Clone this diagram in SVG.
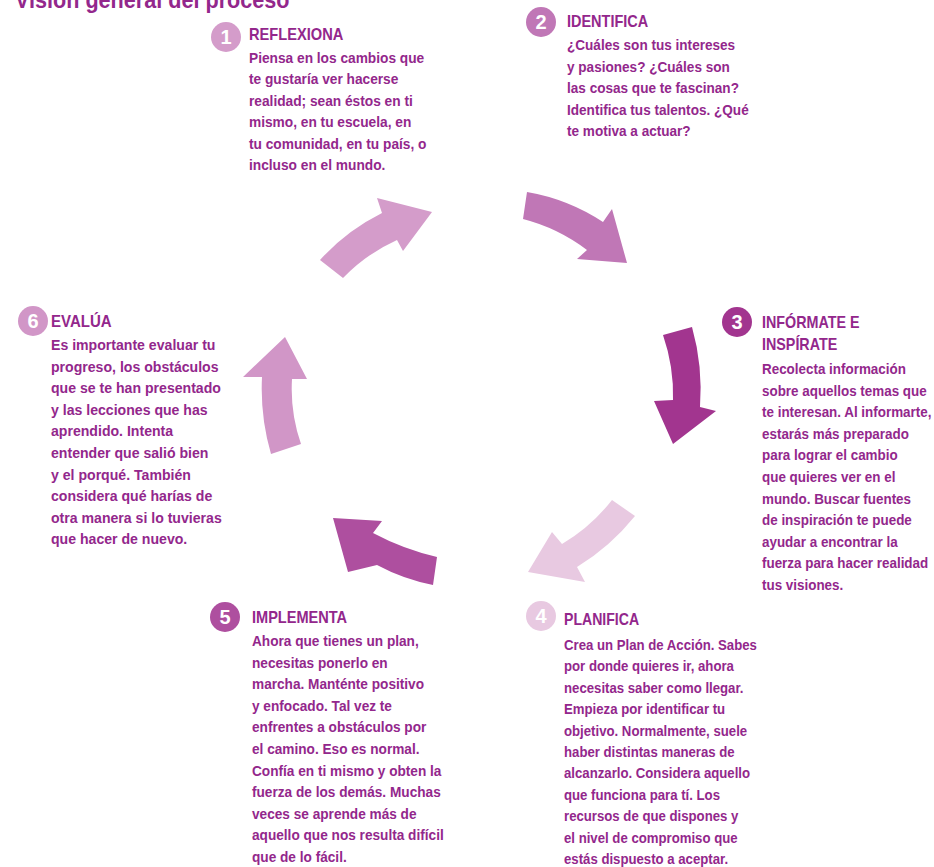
<svg xmlns="http://www.w3.org/2000/svg" width="934" height="867" viewBox="0 0 934 867">
<style>
text{font-family:"Liberation Sans",Arial,sans-serif;font-weight:bold;fill:#93278c}
.t{font-size:24px}
.h{font-size:16px}
.b{font-size:15px}
.n{font-size:20px;fill:#fff;text-anchor:middle}
</style>
<rect width="934" height="867" fill="#fff"/>
<text class="t" transform="translate(15,7.5) scale(0.9,1)">Visión general del proceso</text>
<g id="connectors">
<path fill="#d49cca" d="M320,260 L343,278 Q366,254 397,240 L403,251 L432,212 L377,198 L382,213 Q346,231 320,260 Z"/>
<path fill="#c077b6" d="M527,192 Q568,199 603,222 L612,209 L627,263 L577,259 L587,250 Q558,228 523,219 Z"/>
<path fill="#a2358f" d="M663,335 L692,327 Q703,366 700,407 L716,411 L673,444 L654,401 L673,400 Q674,367 663,335 Z"/>
<path fill="#e8c9e1" d="M612,500 L635,516 Q610,547 577,567 L585,582 L528,572 L552,532 L562,544 Q591,527 612,500 Z"/>
<path fill="#ae4f9f" d="M437,557 L433,585 Q403,579 377,565 L348,572 L333,518 L382,521 L373,533 Q403,549 437,557 Z"/>
<path fill="#d196c7" d="M271,454 L301,444 Q290,412 292,379 L307,379 L285,337 L243,377 L262,377 Q260,416 271,454 Z"/>
</g>
<g id="node1">
<circle cx="226" cy="37" r="15" fill="#d49cca"/>
<text class="n" x="226" y="44">1</text>
<g transform="translate(249,40) scale(0.915,1)">
<text class="h">REFLEXIONA</text>
<text class="b" y="23"><tspan x="0">Piensa en los cambios que</tspan><tspan x="0" dy="21.5">te gustaría ver hacerse</tspan><tspan x="0" dy="21.5">realidad; sean éstos en ti</tspan><tspan x="0" dy="21.5">mismo, en tu escuela, en</tspan><tspan x="0" dy="21.5">tu comunidad, en tu país, o</tspan><tspan x="0" dy="21.5">incluso en el mundo.</tspan></text>
</g>
</g>
<g id="node2">
<circle cx="541" cy="22" r="15" fill="#c077b6"/>
<text class="n" x="541" y="29">2</text>
<g transform="translate(567,27) scale(0.905,1)">
<text class="h">IDENTIFICA</text>
<text class="b" y="23"><tspan x="0">¿Cuáles son tus intereses</tspan><tspan x="0" dy="21.6">y pasiones? ¿Cuáles son</tspan><tspan x="0" dy="21.6">las cosas que te fascinan?</tspan><tspan x="0" dy="21.6">Identifica tus talentos. ¿Qué</tspan><tspan x="0" dy="21.6">te motiva a actuar?</tspan></text>
</g>
</g>
<g id="node3">
<circle cx="737" cy="322" r="15" fill="#a2358f"/>
<text class="n" x="737" y="329">3</text>
<g transform="translate(762,328) scale(0.895,1)">
<text class="h"><tspan x="0">INFÓRMATE E</tspan><tspan x="0" dy="22">INSPÍRATE</tspan></text>
<text class="b" y="46"><tspan x="0">Recolecta información</tspan><tspan x="0" dy="21.6">sobre aquellos temas que</tspan><tspan x="0" dy="21.6">te interesan. Al informarte,</tspan><tspan x="0" dy="21.6">estarás más preparado</tspan><tspan x="0" dy="21.6">para lograr el cambio</tspan><tspan x="0" dy="21.6">que quieres ver en el</tspan><tspan x="0" dy="21.6">mundo.  Buscar fuentes</tspan><tspan x="0" dy="21.6">de inspiración te puede</tspan><tspan x="0" dy="21.6">ayudar a encontrar la</tspan><tspan x="0" dy="21.6">fuerza para hacer realidad</tspan><tspan x="0" dy="21.6">tus visiones.</tspan></text>
</g>
</g>
<g id="node4">
<circle cx="541" cy="616" r="15" fill="#e8c9e1"/>
<text class="n" x="541" y="623">4</text>
<g transform="translate(564,625) scale(0.88,1)">
<text class="h">PLANIFICA</text>
<text class="b" y="25"><tspan x="0">Crea un Plan de Acción. Sabes</tspan><tspan x="0" dy="21.4">por donde quieres ir, ahora</tspan><tspan x="0" dy="21.4">necesitas saber como llegar.</tspan><tspan x="0" dy="21.4">Empieza por identificar tu</tspan><tspan x="0" dy="21.4">objetivo. Normalmente, suele</tspan><tspan x="0" dy="21.4">haber distintas maneras de</tspan><tspan x="0" dy="21.4">alcanzarlo. Considera aquello</tspan><tspan x="0" dy="21.4">que funciona para tí. Los</tspan><tspan x="0" dy="21.4">recursos de que dispones y</tspan><tspan x="0" dy="21.4">el nivel de compromiso que</tspan><tspan x="0" dy="21.4">estás dispuesto a aceptar.</tspan></text>
</g>
</g>
<g id="node5">
<circle cx="225" cy="617" r="15" fill="#ae4f9f"/>
<text class="n" x="225" y="624">5</text>
<g transform="translate(252,623) scale(0.91,1)">
<text class="h">IMPLEMENTA</text>
<text class="b" y="23"><tspan x="0">Ahora que tienes un plan,</tspan><tspan x="0" dy="21.6">necesitas ponerlo en</tspan><tspan x="0" dy="21.6">marcha. Manténte positivo</tspan><tspan x="0" dy="21.6">y enfocado. Tal vez te</tspan><tspan x="0" dy="21.6">enfrentes a obstáculos por</tspan><tspan x="0" dy="21.6">el camino. Eso es normal.</tspan><tspan x="0" dy="21.6">Confía en ti mismo y obten la</tspan><tspan x="0" dy="21.6">fuerza de los demás. Muchas</tspan><tspan x="0" dy="21.6">veces se aprende más de</tspan><tspan x="0" dy="21.6">aquello que nos resulta difícil</tspan><tspan x="0" dy="21.6">que de lo fácil.</tspan></text>
</g>
</g>
<g id="node6">
<circle cx="33" cy="321" r="15" fill="#d196c7"/>
<text class="n" x="33" y="328">6</text>
<g transform="translate(51,327) scale(0.94,1)">
<text class="h">EVALÚA</text>
<text class="b" y="23"><tspan x="0">Es importante evaluar tu</tspan><tspan x="0" dy="21.6">progreso, los obstáculos</tspan><tspan x="0" dy="21.6">que se te han presentado</tspan><tspan x="0" dy="21.6">y las lecciones que has</tspan><tspan x="0" dy="21.6">aprendido. Intenta</tspan><tspan x="0" dy="21.6">entender que salió bien</tspan><tspan x="0" dy="21.6">y el porqué. También</tspan><tspan x="0" dy="21.6">considera qué harías de</tspan><tspan x="0" dy="21.6">otra manera si lo tuvieras</tspan><tspan x="0" dy="21.6">que hacer de nuevo.</tspan></text>
</g>
</g>
</svg>
